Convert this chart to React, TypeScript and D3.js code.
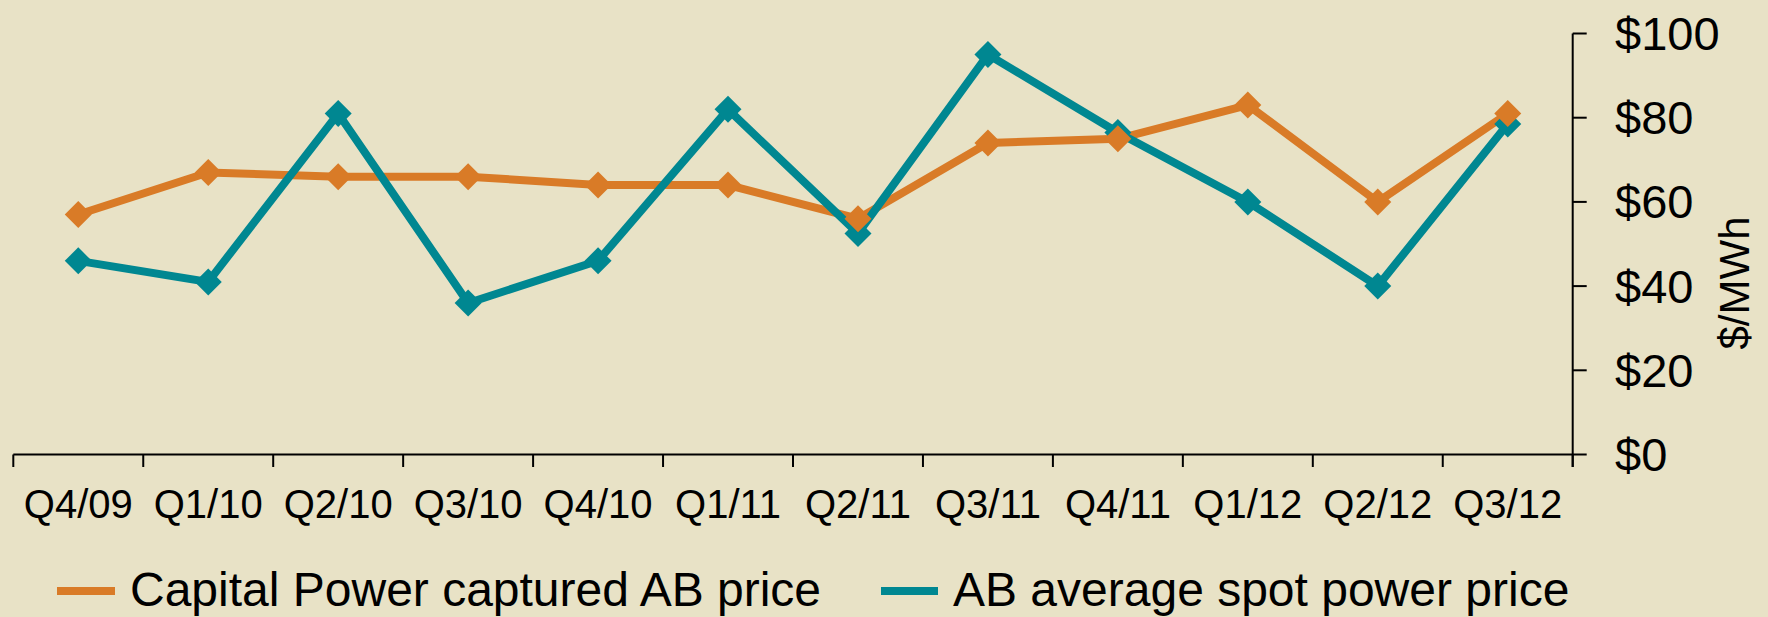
import React from "react";
import * as d3 from "d3";

const categories = ["Q4/09","Q1/10","Q2/10","Q3/10","Q4/10","Q1/11","Q2/11","Q3/11","Q4/11","Q1/12","Q2/12","Q3/12"];
const capturedPrice = [57, 67, 66, 66, 64, 64, 56, 74, 75, 83, 60, 81];
const spotPrice = [46, 41, 81, 36, 46, 82, 52.5, 95, 76.5, 60, 40, 78.5];
const yTicks = [0, 20, 40, 60, 80, 100];
const seriesNames = ["Capital Power captured AB price", "AB average spot power price"];

const W = 1768, H = 617;
const BG = "#E8E2C6";
const ORANGE = "#D97B27";
const TEAL = "#008791";
const FONT = "'Liberation Sans', Arial, sans-serif";

export default function App() {
  const x = d3.scaleBand<string>().domain(categories).range([13.3, 1572.7]).padding(0);
  const y = d3.scaleLinear().domain([0, 100]).range([454.5, 33.5]);
  const cx = (i: number) => (x(categories[i]) as number) + x.bandwidth() / 2;
  const line = d3.line<number>().x((_, i) => cx(i)).y((d) => y(d));
  const diamond = (px: number, py: number, r = 13.5) =>
    `M${px},${py - r}L${px + r},${py}L${px},${py + r}L${px - r},${py}Z`;
  const boundaries = categories.map((c) => x(c) as number).concat([x.range()[1]]);
  const axisX = x.range()[1];

  return (
    <div style={{ position: "fixed", left: 0, top: 0, width: W, height: H }}>
      <svg width={W} height={H} style={{ display: "block" }} fontFamily={FONT}>
        <rect x={0} y={0} width={W} height={H} fill={BG} />
        {/* axes */}
        <line x1={x.range()[0]} x2={axisX} y1={y(0)} y2={y(0)} stroke="#000" strokeWidth={2} />
        {boundaries.map((b, i) => (
          <line key={"xt" + i} x1={b} x2={b} y1={y(0)} y2={y(0) + 12.5} stroke="#000" strokeWidth={2} />
        ))}
        <line x1={axisX} x2={axisX} y1={y(100)} y2={y(0) + 12.5} stroke="#000" strokeWidth={2} />
        {yTicks.map((t) => (
          <g key={"yt" + t}>
            <line x1={axisX} x2={axisX + 14} y1={y(t)} y2={y(t)} stroke="#000" strokeWidth={2} />
            <text x={1615} y={y(t)} dy="0.35em" fontSize={47} fill="#000">{"$" + t}</text>
          </g>
        ))}
        <text transform={`translate(1749,283) rotate(-90)`} textAnchor="middle" fontSize={42} fill="#000">$/MWh</text>
        {categories.map((c, i) => (
          <text key={c} x={cx(i)} y={518} textAnchor="middle" fontSize={40} fill="#000">{c}</text>
        ))}
        {/* lines */}
        <path d={line(capturedPrice) as string} fill="none" stroke={ORANGE} strokeWidth={8} strokeLinejoin="miter" />
        <path d={line(spotPrice) as string} fill="none" stroke={TEAL} strokeWidth={8} strokeLinejoin="miter" />
        {spotPrice.map((v, i) => (
          <path key={"sm" + i} d={diamond(cx(i), y(v))} fill={TEAL} />
        ))}
        {capturedPrice.map((v, i) => (
          <path key={"cm" + i} d={diamond(cx(i), y(v))} fill={ORANGE} />
        ))}
        {/* legend */}
        <rect x={57} y={587} width={58} height={8} fill={ORANGE} />
        <text x={130} y={606} fontSize={48} fill="#000">{seriesNames[0]}</text>
        <rect x={881} y={587} width={57} height={8} fill={TEAL} />
        <text x={953} y={606} fontSize={48} fill="#000">{seriesNames[1]}</text>
      </svg>
    </div>
  );
}
